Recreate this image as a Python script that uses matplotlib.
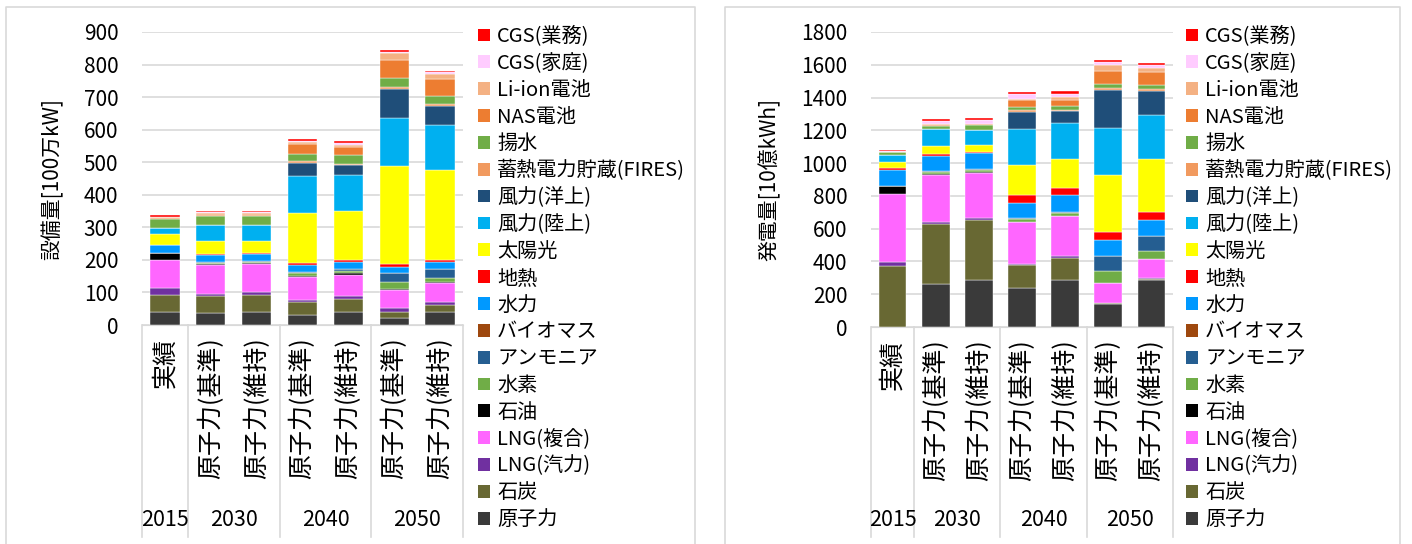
import matplotlib
matplotlib.use("Agg")
import matplotlib.pyplot as plt
import matplotlib.transforms as mtransforms
from matplotlib.lines import Line2D
from matplotlib.patches import Patch

plt.rcParams['font.family'] = ['Noto Sans CJK JP', 'DejaVu Sans']

# bar labels and years
bar_labels = ['実績', '原子力(基準)', '原子力(維持)', '原子力(基準)', '原子力(維持)',
              '原子力(基準)', '原子力(維持)']
years = ['2015', '2030', '2040', '2050']
year_centers = [0, 1.5, 3.5, 5.5]
group_edges = [-0.5, 0.5, 2.5, 4.5, 6.5]

# series, bottom to top
series = ['原子力', '石炭', 'LNG(汽力)', 'LNG(複合)', '石油', '水素', 'アンモニア', 'バイオマス',
          '水力', '地熱', '太陽光', '風力(陸上)', '風力(洋上)', '蓄熱電力貯蔵(FIRES)', '揚水',
          'NAS電池', 'Li-ion電池', 'CGS(家庭)', 'CGS(業務)']
colors = ['#3A3A3A', '#686833', '#7030A0', '#FF66FF', '#000000', '#70AD47', '#255E91', '#9E480E',
          '#0099FF', '#FF0000', '#FFFF00', '#00B0F0', '#1F4E79', '#F19A5F', '#70AD47',
          '#ED7D31', '#F4B183', '#FFCCFF', '#FF0000']

# 設備量 [100万kW]
cap_nuclear = [40, 36, 40, 32, 40, 20, 40]
cap_coal = [53, 53, 53, 38, 40, 20, 20]
cap_lng_steam = [20, 7, 8, 8, 8, 11, 10]
cap_lng_cc = [87, 87, 85, 70, 67, 57, 58]
cap_oil = [22, 4, 4, 4, 5, 4, 3]
cap_h2 = [0, 3, 4, 7, 7, 20, 14]
cap_nh3 = [0, 2, 2, 4, 5, 27, 26]
cap_bio = [0, 0, 0, 0, 0, 0, 0]
cap_hydro = [23, 24, 22, 22, 22, 20, 21]
cap_geo = [1, 2, 3, 6, 7, 7, 7]
cap_pv = [32, 40, 37, 154, 149, 302, 278]
cap_wind_on = [21, 50, 50, 113, 112, 147, 136]
cap_wind_off = [0, 0, 0, 40, 28, 91, 59]
cap_fires = [0, 0, 0, 5, 6, 6, 6]
cap_pumped = [28, 26, 26, 23, 25, 28, 26]
cap_nas = [2, 5, 5, 29, 25, 55, 52]
cap_liion = [2, 4, 4, 7, 8, 21, 16]
cap_cgs_home = [2, 3, 3, 4, 5, 4, 5]
cap_cgs_biz = [5, 3, 3, 5, 5, 5, 4]

# 発電量 [10億kWh]
gen_nuclear = [0, 263, 288, 239, 288, 143, 288]
gen_coal = [371, 365, 363, 139, 136, 2, 2]
gen_lng_steam = [27, 12, 14, 8, 10, 2, 8]
gen_lng_cc = [416, 287, 277, 257, 243, 122, 114]
gen_oil = [49, 6, 6, 0, 0, 0, 0]
gen_h2 = [0, 10, 9, 14, 16, 72, 49]
gen_nh3 = [0, 6, 5, 8, 10, 94, 96]
gen_bio = [0, 0, 0, 0, 0, 0, 0]
gen_hydro = [98, 96, 98, 94, 100, 97, 96]
gen_geo = [8, 8, 8, 47, 45, 45, 47]
gen_pv = [40, 51, 41, 183, 177, 353, 326]
gen_wind_on = [42, 102, 96, 217, 217, 283, 266]
gen_wind_off = [0, 0, 0, 106, 73, 231, 148]
gen_fires = [0, 0, 0, 10, 10, 12, 10]
gen_pumped = [15, 19, 25, 21, 23, 25, 25]
gen_nas = [0, 6, 6, 40, 40, 81, 79]
gen_liion = [0, 6, 4, 10, 14, 36, 26]
gen_cgs_home = [5, 22, 24, 31, 21, 17, 20]
gen_cgs_biz = [12, 8, 10, 10, 14, 12, 12]

cap_data = [cap_nuclear, cap_coal, cap_lng_steam, cap_lng_cc, cap_oil, cap_h2, cap_nh3, cap_bio,
            cap_hydro, cap_geo, cap_pv, cap_wind_on, cap_wind_off, cap_fires, cap_pumped,
            cap_nas, cap_liion, cap_cgs_home, cap_cgs_biz]
gen_data = [gen_nuclear, gen_coal, gen_lng_steam, gen_lng_cc, gen_oil, gen_h2, gen_nh3, gen_bio,
            gen_hydro, gen_geo, gen_pv, gen_wind_on, gen_wind_off, gen_fires, gen_pumped,
            gen_nas, gen_liion, gen_cgs_home, gen_cgs_biz]

W, H = 1412, 544
fig = plt.figure(figsize=(W / 100, H / 100), dpi=100)
grid_c = '#D9D9D9'


def px(x0, y0, x1, y1):
    return [x0 / W, 1 - y1 / H, (x1 - x0) / W, (y1 - y0) / H]


def draw_panel(rect, data, ymax, ystep, ylabel, ylabel_x, legend_x):
    ax = fig.add_axes(px(*rect))
    x = list(range(len(bar_labels)))
    bottom = [0] * len(x)
    for vals, c, name in zip(data, colors, series):
        ax.bar(x, vals, 0.64, bottom=bottom, color=c, edgecolor='white', linewidth=0.3, label=name)
        bottom = [b + v for b, v in zip(bottom, vals)]
    ax.set_xlim(-0.5, 6.5)
    ax.set_ylim(0, ymax)
    ax.set_yticks(range(0, ymax + 1, ystep))
    ax.yaxis.grid(True, color=grid_c, linewidth=1.2)
    ax.set_axisbelow(True)
    for s in ['top', 'right', 'left']:
        ax.spines[s].set_visible(False)
    ax.spines['bottom'].set_color(grid_c)
    ax.tick_params(axis='y', length=0, pad=17, labelsize=15)
    ax.set_xticks(x, bar_labels, rotation=90, fontsize=18)
    ax.tick_params(axis='x', length=0, pad=9)
    for lab in ax.get_xticklabels():
        lab.set_verticalalignment('top')

    axh = rect[3] - rect[1]
    tr = mtransforms.blended_transform_factory(ax.transData, ax.transAxes)
    for e in group_edges:
        ax.plot([e, e], [0, -(537 - rect[3]) / axh], transform=tr, color=grid_c,
                linewidth=1.2, clip_on=False)
    for yr, c in zip(years, year_centers):
        ax.text(c, -(520 - rect[3]) / axh, yr, transform=tr, ha='center', va='center',
                fontsize=15.5)

    fig.text(ylabel_x / W, 1 - (rect[1] + rect[3]) / 2 / H, ylabel, rotation=90,
             ha='center', va='center', fontsize=15)

    handles = [Patch(facecolor=c) for c in colors][::-1]
    fig.legend(handles, series[::-1], loc='upper left', bbox_to_anchor=(legend_x / W, 1 - 26 / H),
               frameon=False, fontsize=14.5, borderpad=0, borderaxespad=0,
               handlelength=0.6, handleheight=0.6, handletextpad=0.35, labelspacing=0.29)
    return ax


draw_panel((142, 32, 463, 325), cap_data, 900, 100, '設備量[100万kW]', 52, 478)
draw_panel((871, 32, 1173, 327), gen_data, 1800, 200, '発電量[10億kWh]', 770, 1186)

# panel borders
for x0, x1 in [(6, 695), (725, 1400)]:
    fig.add_artist(Line2D([x0 / W, x0 / W, x1 / W, x1 / W], [0, 1 - 7 / H, 1 - 7 / H, 0],
                          transform=fig.transFigure, color=grid_c, linewidth=1.2))

fig.savefig('out.png', dpi=100)
